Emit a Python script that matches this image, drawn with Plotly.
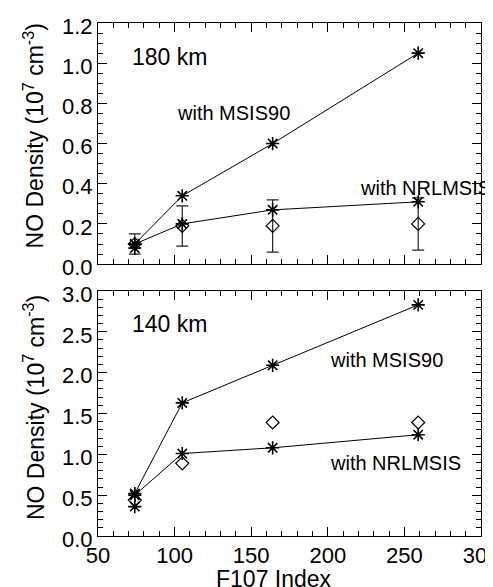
import plotly.graph_objects as go

# ---- data ----
f107 = [74, 105, 164, 259]

top_msis90 = [0.10, 0.34, 0.60, 1.05]
top_nrlmsis = [0.10, 0.20, 0.27, 0.31]
top_obs = [0.10, 0.19, 0.19, 0.20]
top_obs_err = [0.05, 0.10, 0.13, 0.13]
top_extra_x = [74]
top_extra = [0.08]

bot_msis90 = [0.52, 1.63, 2.09, 2.83]
bot_nrlmsis = [0.50, 1.01, 1.08, 1.24]
bot_obs = [0.44, 0.89, 1.39, 1.39]
bot_extra_x = [74]
bot_extra = [0.36]

x_ticks = [50, 100, 150, 200, 250, 300]

FONT = "Liberation Sans, Arial, sans-serif"
BLACK = "black"

star = dict(symbol="asterisk-open", size=11, line=dict(color=BLACK, width=1.6), color=BLACK)
diam = dict(symbol="diamond-open", size=10, line=dict(color=BLACK, width=1.2), color=BLACK)
line = dict(color=BLACK, width=1)

fig = go.Figure()

# top panel (180 km)
fig.add_trace(go.Scatter(x=f107, y=top_obs, mode="markers", marker=diam,
                         error_y=dict(type="data", array=top_obs_err, visible=True,
                                      color="#222", thickness=1.2, width=6),
                         xaxis="x", yaxis="y", showlegend=False))
fig.add_trace(go.Scatter(x=f107, y=top_msis90, mode="lines+markers", marker=star, line=line,
                         xaxis="x", yaxis="y", showlegend=False))
fig.add_trace(go.Scatter(x=f107, y=top_nrlmsis, mode="lines+markers", marker=star, line=line,
                         xaxis="x", yaxis="y", showlegend=False))
fig.add_trace(go.Scatter(x=top_extra_x, y=top_extra, mode="markers", marker=star,
                         xaxis="x", yaxis="y", showlegend=False))

# bottom panel (140 km)
fig.add_trace(go.Scatter(x=f107, y=bot_obs, mode="markers", marker=diam,
                         xaxis="x2", yaxis="y2", showlegend=False))
fig.add_trace(go.Scatter(x=f107, y=bot_msis90, mode="lines+markers", marker=star, line=line,
                         xaxis="x2", yaxis="y2", showlegend=False))
fig.add_trace(go.Scatter(x=f107, y=bot_nrlmsis, mode="lines+markers", marker=star, line=line,
                         xaxis="x2", yaxis="y2", showlegend=False))
fig.add_trace(go.Scatter(x=bot_extra_x, y=bot_extra, mode="markers", marker=star,
                         xaxis="x2", yaxis="y2", showlegend=False))

common_axis = dict(showline=True, linecolor=BLACK, linewidth=1, mirror="allticks",
                   ticks="inside", tickcolor=BLACK, ticklen=9, tickwidth=1,
                   showgrid=False, zeroline=False, automargin=False,
                   ticklabeloverflow="allow",
                   tickfont=dict(family=FONT, size=22, color=BLACK))

ytitle = "NO Density (10<sup>7</sup> cm<sup>-3</sup>)"

fig.update_layout(
    width=493, height=587,
    margin=dict(l=90, r=20, t=15, b=59),
    paper_bgcolor="white", plot_bgcolor="white",
    font=dict(family=FONT, color=BLACK),
    xaxis=dict(domain=[0, 1], range=[50, 300], anchor="y", tickvals=x_ticks,
               showticklabels=False,
               minor=dict(dtick=10, tick0=50, ticklen=5, ticks="inside", tickcolor=BLACK, showgrid=False),
               **common_axis),
    yaxis=dict(domain=[0.530, 1], range=[0, 1.2], anchor="x", dtick=0.2, tick0=0,
               tickformat=".1f", ticklabelshift=3,
               minor=dict(dtick=0.05, tick0=0, ticklen=5, ticks="inside", tickcolor=BLACK, showgrid=False),
               **common_axis),
    xaxis2=dict(domain=[0, 1], range=[50, 300], anchor="y2", tickvals=x_ticks,
                minor=dict(dtick=10, tick0=50, ticklen=5, ticks="inside", tickcolor=BLACK, showgrid=False),
                **common_axis),
    yaxis2=dict(domain=[0, 0.4776], range=[0, 3.0], anchor="x2", dtick=0.5, tick0=0,
                tickformat=".1f", ticklabelshift=3,
                minor=dict(dtick=0.1, tick0=0, ticklen=5, ticks="inside", tickcolor=BLACK, showgrid=False),
                **common_axis),
)

# axis titles
fig.add_annotation(text=ytitle, xref="paper", yref="paper", x=-0.167, y=0.779,
                   textangle=-90, showarrow=False, xanchor="center", yanchor="middle",
                   font=dict(family=FONT, size=23, color=BLACK))
fig.add_annotation(text=ytitle, xref="paper", yref="paper", x=-0.167, y=0.2495,
                   textangle=-90, showarrow=False, xanchor="center", yanchor="middle",
                   font=dict(family=FONT, size=23, color=BLACK))
fig.add_annotation(text="F107 Index", xref="x2", yref="paper", x=165, y=-0.0835,
                   showarrow=False, xanchor="center", yanchor="middle",
                   font=dict(family=FONT, size=23, color=BLACK))

ann = dict(showarrow=False, xanchor="left", yanchor="middle",
           font=dict(family=FONT, size=20, color=BLACK))
big = dict(family=FONT, size=23, color=BLACK)
fig.add_annotation(x=71, y=1.03, xref="x", yref="y", text="180 km", **{**ann, "font": big})
fig.add_annotation(x=100, y=0.75, xref="x", yref="y", text="with MSIS90", **ann)
fig.add_annotation(x=219.5, y=0.378, xref="x", yref="y", text="with NRLMSIS", **ann)
fig.add_annotation(x=71, y=2.59, xref="x2", yref="y2", text="140 km", **{**ann, "font": big})
fig.add_annotation(x=200, y=2.16, xref="x2", yref="y2", text="with MSIS90", **ann)
fig.add_annotation(x=200, y=0.894, xref="x2", yref="y2", text="with NRLMSIS", **ann)

fig.write_html("out.html")
